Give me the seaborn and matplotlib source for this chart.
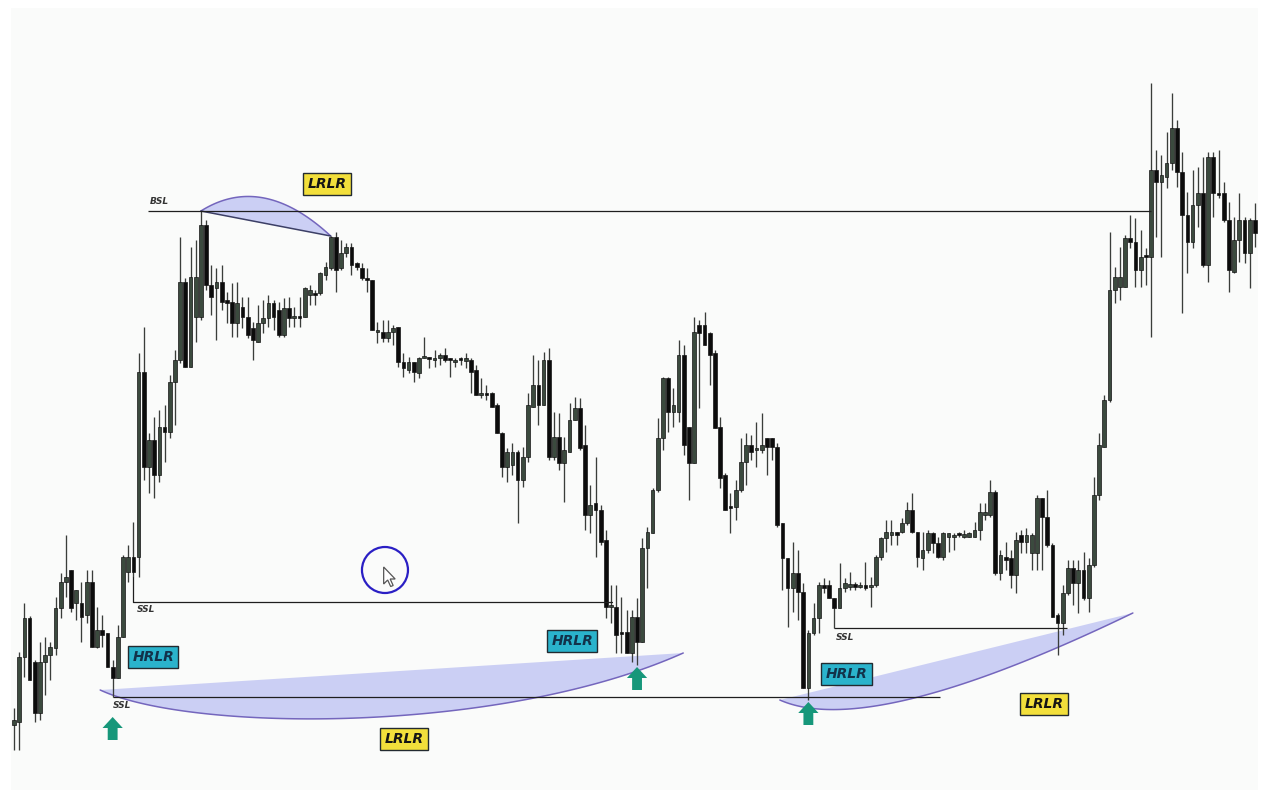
import numpy as np
import matplotlib
matplotlib.use("Agg")
import matplotlib.pyplot as plt
from matplotlib.patches import Polygon, Ellipse, Rectangle
import seaborn as sns

# ---- OHLC series (price points) ----
open_prices = [
    75, 78, 143, 182, 138, 87, 138, 145, 152, 192,
    218, 230, 197, 197, 185, 218, 153, 170, 167, 133,
    122, 163, 228, 243, 243, 428, 333, 360, 325, 373,
    368, 418, 440, 518, 433, 483, 483, 575, 515, 512,
    518, 500, 498, 477, 493, 483, 472, 458, 477, 482,
    497, 490, 465, 492, 482, 484, 483, 505, 507, 507,
    525, 532, 563, 532, 547, 553, 537, 532, 522, 520,
    468, 468, 462, 468, 473, 438, 430, 438, 427, 442,
    442, 440, 442, 445, 441, 438, 441, 439, 440, 430,
    405, 407, 407, 395, 367, 333, 335, 348, 320, 343,
    393, 415, 395, 440, 343, 363, 337, 348, 380, 392,
    355, 285, 297, 290, 260, 193, 193, 168, 168, 147,
    183, 158, 252, 267, 310, 362, 422, 388, 388, 445,
    373, 337, 475, 475, 467, 447, 373, 325, 293, 293,
    310, 338, 355, 350, 350, 362, 362, 353, 277, 242,
    212, 227, 208, 112, 167, 182, 215, 215, 202, 192,
    212, 213, 216, 213, 215, 213, 215, 243, 262, 265,
    268, 268, 277, 290, 268, 242, 250, 267, 257, 243,
    263, 263, 267, 263, 263, 263, 270, 285, 285, 308,
    227, 243, 242, 225, 265, 258, 247, 247, 302, 283,
    255, 185, 177, 207, 232, 217, 230, 202, 235, 305,
    353, 400, 510, 513, 513, 562, 558, 530, 545, 543,
    630, 618, 623, 637, 672, 628, 585, 558, 595, 607,
    535, 643, 607, 607, 580, 528, 560, 580, 547, 580,
]
high_prices = [
    92, 148, 197, 184, 140, 158, 163, 158, 203, 227,
    265, 230, 210, 218, 230, 230, 193, 185, 167, 140,
    175, 245, 255, 278, 447, 473, 367, 383, 390, 395,
    425, 450, 563, 522, 553, 560, 589, 580, 535, 532,
    535, 508, 517, 518, 503, 503, 478, 495, 500, 505,
    500, 498, 502, 503, 493, 503, 513, 515, 510, 528,
    538, 564, 568, 560, 557, 557, 538, 537, 532, 520,
    478, 480, 480, 475, 473, 447, 443, 438, 443, 463,
    443, 450, 447, 452, 442, 442, 443, 447, 442, 435,
    422, 415, 408, 397, 368, 352, 357, 350, 353, 407,
    445, 440, 448, 452, 388, 387, 363, 397, 403, 402,
    375, 315, 343, 295, 270, 215, 215, 203, 190, 190,
    202, 262, 273, 312, 382, 423, 423, 412, 460, 455,
    373, 483, 480, 488, 468, 450, 383, 327, 307, 320,
    362, 367, 365, 378, 387, 362, 362, 357, 277, 242,
    258, 250, 217, 170, 197, 218, 222, 220, 202, 237,
    222, 228, 218, 218, 238, 223, 245, 263, 280, 280,
    268, 282, 298, 307, 268, 268, 270, 268, 263, 268,
    267, 267, 268, 270, 268, 278, 297, 297, 320, 310,
    250, 258, 250, 268, 270, 272, 267, 305, 302, 310,
    257, 187, 215, 240, 240, 240, 248, 242, 323, 367,
    405, 568, 533, 553, 565, 585, 582, 570, 552, 717,
    650, 645, 668, 707, 680, 648, 608, 630, 633, 643,
    648, 648, 650, 618, 598, 583, 607, 583, 582, 597,
]
low_prices = [
    50, 50, 123, 120, 78, 80, 105, 120, 145, 182,
    203, 188, 180, 158, 177, 153, 152, 153, 133, 103,
    122, 163, 218, 223, 223, 320, 307, 302, 318, 338,
    362, 375, 437, 433, 433, 458, 480, 510, 485, 460,
    490, 477, 463, 463, 472, 462, 440, 458, 467, 473,
    470, 463, 463, 473, 473, 473, 483, 495, 495, 505,
    520, 530, 508, 530, 543, 525, 530, 520, 508, 470,
    457, 458, 458, 455, 433, 423, 427, 418, 422, 442,
    432, 433, 435, 438, 423, 433, 435, 432, 407, 405,
    402, 400, 393, 367, 323, 318, 325, 277, 313, 338,
    393, 375, 395, 340, 340, 330, 298, 348, 380, 350,
    270, 267, 243, 255, 182, 177, 147, 147, 147, 138,
    135, 158, 212, 267, 308, 350, 368, 373, 378, 345,
    300, 337, 392, 455, 415, 372, 312, 290, 267, 280,
    308, 315, 340, 333, 347, 325, 340, 273, 210, 173,
    188, 180, 112, 100, 165, 167, 207, 202, 172, 192,
    208, 210, 210, 212, 210, 193, 213, 240, 248, 255,
    255, 267, 275, 267, 233, 230, 247, 247, 242, 240,
    248, 250, 263, 262, 263, 263, 260, 280, 283, 225,
    220, 230, 212, 207, 247, 247, 230, 230, 230, 253,
    183, 145, 165, 205, 195, 187, 200, 188, 233, 300,
    353, 398, 497, 500, 513, 552, 513, 513, 515, 463,
    563, 543, 612, 630, 613, 487, 527, 552, 573, 533,
    518, 583, 602, 578, 508, 527, 538, 537, 512, 553,
]
close_prices = [
    80, 143, 182, 120, 87, 138, 145, 153, 192, 218,
    223, 192, 210, 183, 218, 153, 170, 165, 133, 122,
    163, 243, 243, 228, 428, 333, 360, 325, 373, 368,
    418, 440, 518, 433, 523, 523, 575, 515, 503, 518,
    498, 497, 477, 497, 483, 465, 460, 477, 482, 497,
    483, 465, 492, 482, 484, 482, 512, 510, 505, 527,
    533, 563, 530, 547, 553, 535, 533, 522, 520, 470,
    470, 462, 468, 472, 438, 432, 438, 428, 442, 443,
    441, 442, 445, 440, 440, 440, 440, 442, 428, 405,
    407, 405, 393, 367, 333, 348, 348, 320, 343, 395,
    415, 395, 440, 343, 363, 337, 350, 380, 392, 352,
    285, 295, 290, 258, 193, 195, 165, 166, 147, 183,
    158, 252, 268, 310, 362, 422, 388, 395, 445, 355,
    337, 468, 467, 455, 445, 372, 322, 290, 292, 310,
    338, 355, 348, 351, 355, 353, 353, 275, 242, 212,
    227, 208, 112, 167, 182, 215, 212, 202, 192, 212,
    217, 216, 213, 215, 212, 215, 243, 262, 268, 268,
    265, 277, 290, 268, 243, 250, 267, 257, 243, 267,
    267, 265, 265, 266, 267, 270, 288, 288, 308, 227,
    245, 240, 225, 260, 258, 265, 265, 302, 283, 255,
    183, 177, 207, 232, 217, 230, 202, 235, 305, 355,
    400, 510, 523, 523, 562, 558, 530, 543, 543, 630,
    618, 625, 637, 672, 628, 585, 558, 595, 607, 535,
    643, 607, 605, 580, 530, 560, 580, 547, 580, 567,
]

# ---- annotation text ----
zone_labels = ["LRLR", "LRLR", "LRLR"]
reaction_labels = ["HRLR", "HRLR", "HRLR"]
level_labels = ["BSL", "SSL", "SSL", "SSL"]

sns.set_theme(style="white")
plt.rcParams["font.family"] = ["DejaVu Sans"]

o = np.array(open_prices, float)
h = np.array(high_prices, float)
l = np.array(low_prices, float)
c = np.array(close_prices, float)
idx = np.arange(len(o))
bull = c >= o

BULL = "#3b4a3e"
BEAR = "#0c0c0c"
WICK = "#3a3d3a"
ZONE_FILL = "#c9cdf4"
ZONE_EDGE = "#7466bd"
LINE = "#1e1e1e"

fig = plt.figure(figsize=(12.62, 7.94), dpi=100)
fig.patch.set_facecolor("white")
ax = fig.add_axes([0, 0, 1, 1])
ax.set_facecolor("white")
step = 5.192
ax.set_xlim(-14 / step, (1262 - 14) / step)
ax.set_ylim(6, 800)
ax.axis("off")

# faint chart panel
ax.add_patch(Rectangle((0.009, 0.005), 0.988, 0.985, transform=ax.transAxes,
                       facecolor="#fafbfa", edgecolor="none", zorder=0))

# ---- candles ----
ax.vlines(idx, l, h, color=WICK, linewidth=0.95, zorder=3)
body_bottom = np.minimum(o, c)
body_height = np.maximum(np.abs(c - o), 1.6)
colors = np.where(bull, BULL, BEAR)
ax.bar(idx, body_height, bottom=body_bottom, width=0.72, color=colors,
       edgecolor="#151515", linewidth=0.5, zorder=4)


def quad_bezier(p0, p1, ctrl, n=80):
    t = np.linspace(0, 1, n)[:, None]
    p0, p1, ctrl = map(np.asarray, (p0, p1, ctrl))
    return (1 - t) ** 2 * p0 + 2 * t * (1 - t) * ctrl + t ** 2 * p1


def cubic_bezier(p0, p1, c1, c2, n=100):
    t = np.linspace(0, 1, n)[:, None]
    p0, p1, c1, c2 = map(np.asarray, (p0, p1, c1, c2))
    return ((1 - t) ** 3 * p0 + 3 * t * (1 - t) ** 2 * c1
            + 3 * t ** 2 * (1 - t) * c2 + t ** 3 * p1)


def zone(curve, chord_color=None):
    pts = np.vstack([curve, curve[:1]])
    ax.add_patch(Polygon(pts, closed=True, facecolor=ZONE_FILL,
                         edgecolor="none", alpha=0.95, zorder=2))
    ax.plot(curve[:, 0], curve[:, 1], color=ZONE_EDGE, lw=1.1, zorder=2.5)
    if chord_color:
        ax.plot([curve[0, 0], curve[-1, 0]], [curve[0, 1], curve[-1, 1]],
                color=chord_color, lw=1.1, zorder=2.5)


# ---- liquidity levels ----
top_i = 36
ax.hlines(h[top_i], 25.8, 219, color=LINE, lw=0.9, zorder=5)
ax.text(26.2, h[top_i] + 5, level_labels[0], fontsize=6.5, fontweight="bold",
        fontstyle="italic", color="#333333", ha="left", va="bottom", zorder=6)

ssl1_i = 23
ssl1_y = 198
ax.plot([ssl1_i, ssl1_i, 115.2], [l[ssl1_i], ssl1_y, ssl1_y], color=LINE, lw=0.9, zorder=5)
ax.text(25.4, ssl1_y - 8, level_labels[1], fontsize=6.5, fontweight="bold",
        fontstyle="italic", color="#333333", ha="center", va="center", zorder=6)

ssl2_i = 19
ax.hlines(l[ssl2_i], ssl2_i, 178.4, color=LINE, lw=0.9, zorder=5)
ax.text(20.8, l[ssl2_i] - 9, level_labels[2], fontsize=6.5, fontweight="bold",
        fontstyle="italic", color="#333333", ha="center", va="center", zorder=6)

ssl3_i = 158
ax.hlines(l[ssl3_i], ssl3_i, 202.8, color=LINE, lw=0.9, zorder=5)
ax.text(160.0, l[ssl3_i] - 10, level_labels[3], fontsize=6.5, fontweight="bold",
        fontstyle="italic", color="#333333", ha="center", va="center", zorder=6)

# ---- liquidity run zones ----
zone(quad_bezier((top_i, h[top_i]), (61, h[61]), (47.8, 627.5)), chord_color="#3c3f66")
zone(cubic_bezier((16.6, 110), (128.9, 147), (33.9, 68), (93.6, 65)))
zone(quad_bezier((147.5, 100), (215.5, 187), (164.9, 60)))


def tag(x, y, text, face, txt_color):
    ax.text(x, y, text, fontsize=10, fontweight="bold", fontstyle="italic",
            color=txt_color, ha="center", va="center", zorder=8,
            bbox=dict(boxstyle="square,pad=0.32", facecolor=face,
                      edgecolor="#222a30", linewidth=1.0))


tag(60.3, 616, zone_labels[0], "#f2df3b", "#151515")
tag(75.1, 61, zone_labels[1], "#f2df3b", "#151515")
tag(198.4, 96, zone_labels[2], "#f2df3b", "#151515")
tag(26.8, 143, reaction_labels[0], "#2ab3cc", "#12324a")
tag(107.5, 159, reaction_labels[1], "#2ab3cc", "#12324a")
tag(160.4, 126, reaction_labels[2], "#2ab3cc", "#12324a")


# ---- reaction arrows ----
def up_arrow(xc, tip):
    hw, sw, hh, total = 1.95, 0.95, 11, 23
    pts = [(xc, tip), (xc + hw, tip - hh), (xc + sw, tip - hh),
           (xc + sw, tip - total), (xc - sw, tip - total), (xc - sw, tip - hh),
           (xc - hw, tip - hh)]
    ax.add_patch(Polygon(pts, closed=True, facecolor="#16977a",
                         edgecolor="none", zorder=7))


up_arrow(19, 83)
up_arrow(120, 133)
up_arrow(153, 98)

# ---- pointer highlight ----
ax.add_patch(Ellipse((71.45, 230), 46 / step, 46, fill=False,
                     edgecolor="#2a1fc4", linewidth=1.6, zorder=7))
cursor = np.array([(0, 0), (0, 17), (4, 13), (7, 19.5), (9.5, 18.5),
                   (6.5, 12), (11.5, 12)], float)
cx, cy = 71.2, 233
ax.add_patch(Polygon(np.column_stack([cx + cursor[:, 0] / step, cy - cursor[:, 1]]),
                     closed=True, facecolor="white", edgecolor="#555555",
                     linewidth=0.9, zorder=8))

fig.savefig("out.png", dpi=100, facecolor="white")
